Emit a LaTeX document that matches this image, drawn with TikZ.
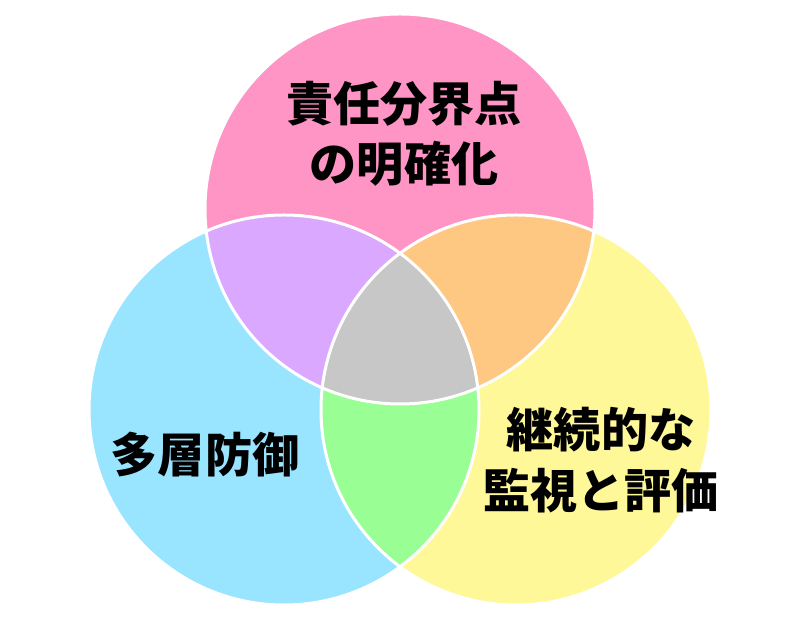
\documentclass[tikz,border=0pt]{standalone}
\usepackage{fontspec}
\newfontfamily\jpfont{Noto Sans CJK JP}
\definecolor{dutypink}{HTML}{FF95C5}
\definecolor{layerblue}{HTML}{99E5FF}
\definecolor{watchyellow}{HTML}{FFF898}
\definecolor{mixpurple}{HTML}{DAA9FF}
\definecolor{mixorange}{HTML}{FFC882}
\definecolor{mixgreen}{HTML}{99FF94}
\definecolor{mixgray}{HTML}{C7C7C7}

\begin{document}
\begin{tikzpicture}[x=0.025cm, y=0.025cm,
    rim/.style={draw=white, line width=3*0.025cm},
    label/.style={font=\jpfont\bfseries\fontsize{33.5}{43}\selectfont, align=center, text=black}]
    \useasboundingbox (0,0) rectangle (800,628);
    \coordinate (duty) at (400,419);
    \coordinate (layer) at (284,218);
    \coordinate (watch) at (516,218);
    % the three sets
    \fill[dutypink] (duty) circle [radius=195];
    \fill[layerblue] (layer) circle [radius=195];
    \fill[watchyellow] (watch) circle [radius=195];
    % pairwise overlaps
    \begin{scope}
        \clip (duty) circle [radius=195];
        \fill[mixpurple] (layer) circle [radius=195];
        \fill[mixorange] (watch) circle [radius=195];
    \end{scope}
    \begin{scope}
        \clip (layer) circle [radius=195];
        \fill[mixgreen] (watch) circle [radius=195];
    \end{scope}
    % all three
    \begin{scope}
        \clip (duty) circle [radius=195];
        \clip (layer) circle [radius=195];
        \fill[mixgray] (watch) circle [radius=195];
    \end{scope}
    \draw[rim] (duty) circle [radius=195];
    \draw[rim] (layer) circle [radius=195];
    \draw[rim] (watch) circle [radius=195];
    \node[label] at (404,494) (dutytext) {責任分界点\\の明確化};
    \node[label] at (205,173) (layertext) {多層防御};
    \node[label] at (601,168) (watchtext) {継続的な\\監視と評価};
\end{tikzpicture}
\end{document}
